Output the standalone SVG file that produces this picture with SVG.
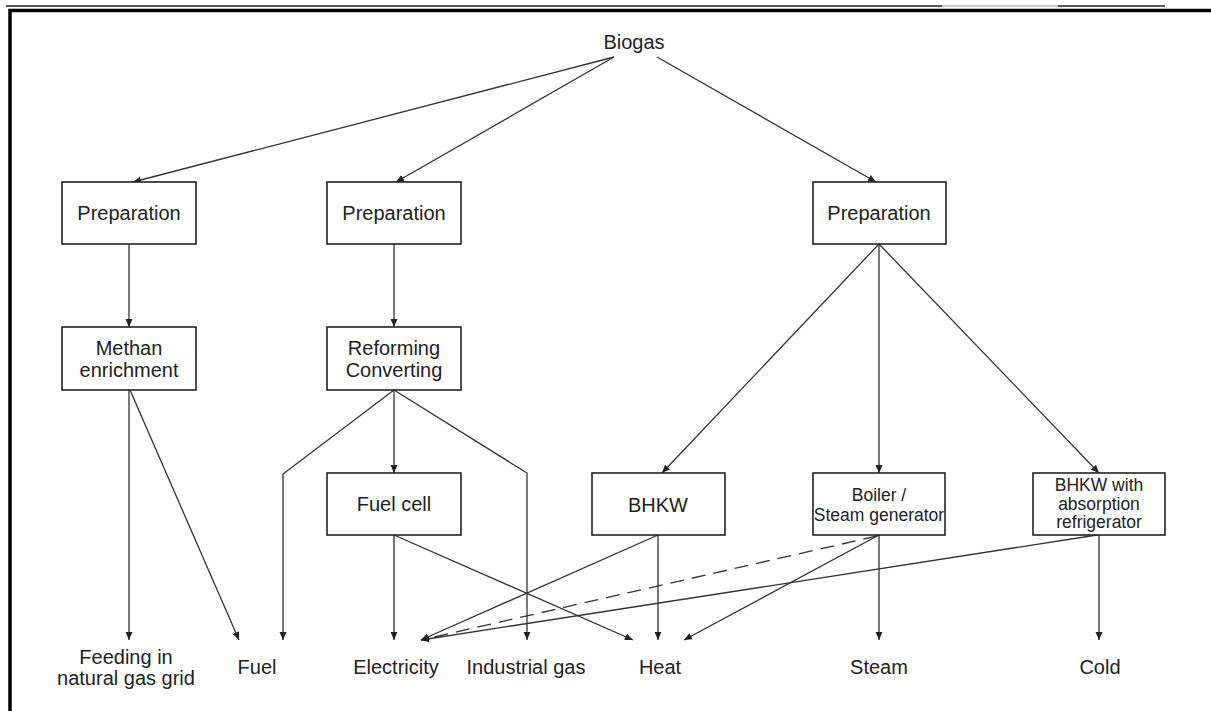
<svg xmlns="http://www.w3.org/2000/svg" width="1211" height="711" viewBox="0 0 1211 711">
<style>
text{font-family:"Liberation Sans",Arial,sans-serif;font-size:20px;fill:#222;text-anchor:middle}
.sm{font-size:17.5px}
.box{fill:#fff;stroke:#222;stroke-width:1.6}
.c{fill:none;stroke:#333;stroke-width:1.3}
.a{marker-end:url(#ah)}
.d{stroke-dasharray:14 8}
</style>
<defs>
<marker id="ah" markerWidth="8" markerHeight="8" refX="8" refY="4" orient="auto" markerUnits="userSpaceOnUse"><path d="M0,0.5 L8,4 L0,7.5Z" fill="#222"/></marker>
</defs>
<g id="frame">
<line x1="6" y1="6" x2="942" y2="6" stroke="#222" stroke-width="1.5"/>
<line x1="942" y1="6" x2="1058" y2="6" stroke="#999" stroke-width="1"/>
<line x1="1058" y1="6" x2="1165" y2="6" stroke="#222" stroke-width="1.5"/>
<path d="M10,711 V10.5 H1211" fill="none" stroke="#000" stroke-width="3.5"/>
</g>
<g id="connectors">
<path class="c a" d="M614,57 L133,182"/>
<path class="c a" d="M614,57 L396,182"/>
<path class="c a" d="M657,57 L876,182"/>
<path class="c a" d="M129,244 V327"/>
<path class="c a" d="M394,244 V327"/>
<path class="c a" d="M879,244 L662,473"/>
<path class="c a" d="M879,244 V473"/>
<path class="c a" d="M879,244 L1099,473"/>
<path class="c a" d="M129,390 V640"/>
<path class="c a" d="M130,390 L239,640"/>
<path class="c a" d="M394,390 L283,474 V640"/>
<path class="c a" d="M394,390 V473"/>
<path class="c a" d="M394,390 L527,473 V640"/>
<path class="c a" d="M394,535 V640"/>
<path class="c a" d="M394,535 L633,640"/>
<path class="c a" d="M658,535 L421,640"/>
<path class="c a" d="M658,535 V640"/>
<path class="c a d" d="M877,536 L421,640"/>
<path class="c a" d="M879,535 L684,640"/>
<path class="c a" d="M879,535 V640"/>
<path class="c a" d="M1097,535 L421,640"/>
<path class="c a" d="M1099,535 V640"/>
</g>
<g id="biogas"><text x="634" y="49">Biogas</text></g>
<g id="prep1"><rect class="box" x="62" y="182" width="134" height="62"/><text x="129" y="220">Preparation</text></g>
<g id="prep2"><rect class="box" x="327" y="182" width="134" height="62"/><text x="394" y="220">Preparation</text></g>
<g id="prep3"><rect class="box" x="813" y="182" width="133" height="62"/><text x="879" y="220">Preparation</text></g>
<g id="methan"><rect class="box" x="62" y="327" width="134" height="63"/><text x="129" y="355">Methan</text><text x="129" y="377">enrichment</text></g>
<g id="reforming"><rect class="box" x="327" y="327" width="134" height="63"/><text x="394" y="355">Reforming</text><text x="394" y="377">Converting</text></g>
<g id="fuelcell"><rect class="box" x="327" y="473" width="134" height="62"/><text x="394" y="511">Fuel cell</text></g>
<g id="bhkw"><rect class="box" x="592" y="473" width="133" height="62"/><text x="658" y="512">BHKW</text></g>
<g id="boiler"><rect class="box" x="813" y="473" width="132" height="62"/><text class="sm" x="879" y="501">Boiler /</text><text class="sm" x="879" y="521">Steam generator</text></g>
<g id="bhkwabs"><rect class="box" x="1033" y="473" width="132" height="62"/><text class="sm" x="1099" y="491">BHKW with</text><text class="sm" x="1099" y="510">absorption</text><text class="sm" x="1099" y="528">refrigerator</text></g>
<g id="out-feeding"><text x="126" y="664">Feeding in</text><text x="126" y="685">natural gas grid</text></g>
<g id="out-fuel"><text x="257" y="674">Fuel</text></g>
<g id="out-electricity"><text x="396" y="674">Electricity</text></g>
<g id="out-industrial"><text x="526" y="674">Industrial gas</text></g>
<g id="out-heat"><text x="660" y="674">Heat</text></g>
<g id="out-steam"><text x="879" y="674">Steam</text></g>
<g id="out-cold"><text x="1100" y="674">Cold</text></g>
</svg>
